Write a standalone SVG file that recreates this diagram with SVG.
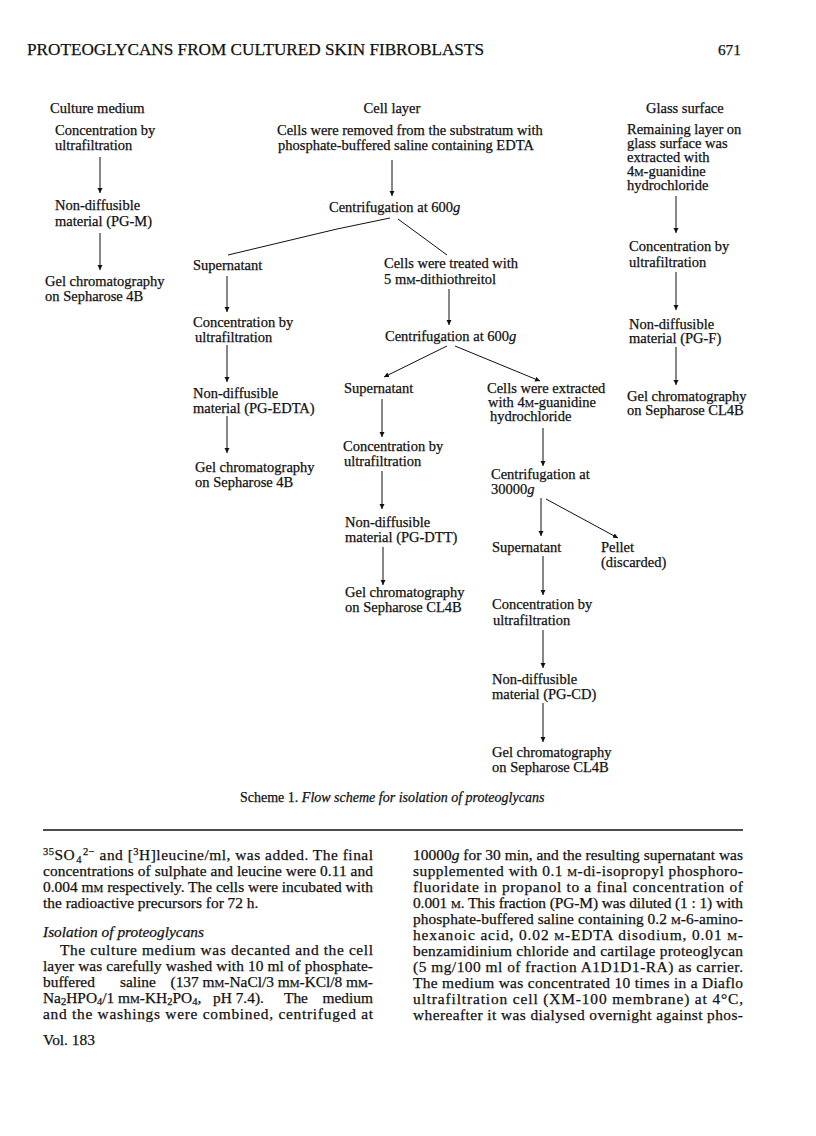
<svg xmlns="http://www.w3.org/2000/svg" width="816" height="1136" viewBox="0 0 816 1136">
<defs>
<marker id="ah" markerUnits="userSpaceOnUse" markerWidth="6" markerHeight="6" refX="5" refY="2.5" orient="auto">
<path d="M0,0 L5,2.5 L0,5 Z" fill="#111"/>
</marker>
<style>
text{font-family:"Liberation Serif","Times New Roman",serif;fill:#111;stroke:#111;stroke-width:0.25px;}
.d{font-size:14.5px;}
.b{font-size:15.4px;}
.cap{font-size:14px;}
.h{font-size:17px;}
.i{font-style:italic;}
.sc{font-size:10.5px;}
.bsc{font-size:11px;}
.sub{font-size:10.5px;}
line.c,polyline.c{stroke:#111;stroke-width:1;fill:none;}
line.a{stroke:#111;stroke-width:1;marker-end:url(#ah);}
</style>
</defs>
<rect width="816" height="1136" fill="#fff"/>

<g id="header">
<text class="h" x="27" y="55" textLength="457" lengthAdjust="spacingAndGlyphs">PROTEOGLYCANS FROM CULTURED SKIN FIBROBLASTS</text>
<text class="b" x="741" y="55" text-anchor="end">671</text>
</g>

<g id="connectors">
<line class="a" x1="100" y1="157" x2="100" y2="193"/>
<line class="a" x1="100" y1="233" x2="100" y2="270"/>
<line class="a" x1="392" y1="160" x2="392" y2="196"/>
<polyline class="c" points="390,218 337,229 228,255"/>
<line class="c" x1="398" y1="219" x2="447" y2="255"/>
<line class="a" x1="227" y1="276" x2="227" y2="312"/>
<line class="a" x1="227" y1="345" x2="227" y2="382"/>
<line class="a" x1="227" y1="416" x2="227" y2="453"/>
<line class="a" x1="449" y1="289" x2="449" y2="325"/>
<line class="a" x1="447" y1="346" x2="384" y2="377"/>
<line class="a" x1="455" y1="346" x2="540" y2="381"/>
<line class="a" x1="382" y1="399" x2="382" y2="437"/>
<line class="a" x1="382" y1="471" x2="382" y2="509"/>
<line class="a" x1="383" y1="547" x2="383" y2="585"/>
<line class="a" x1="543" y1="428" x2="543" y2="466"/>
<line class="a" x1="541" y1="498" x2="541" y2="536"/>
<line class="a" x1="546" y1="499" x2="618" y2="538"/>
<line class="a" x1="543" y1="556" x2="543" y2="595"/>
<line class="a" x1="543" y1="630" x2="543" y2="668"/>
<line class="a" x1="543" y1="703" x2="543" y2="742"/>
<line class="a" x1="676" y1="196" x2="676" y2="233"/>
<line class="a" x1="676" y1="272" x2="676" y2="310"/>
<line class="a" x1="676" y1="347" x2="676" y2="385"/>
</g>

<g id="culture-medium">
<text class="d" x="50" y="113">Culture medium</text>
</g>
<g id="cm-concentration">
<text class="d" x="55" y="135">Concentration by</text>
<text class="d" x="55" y="150">ultrafiltration</text>
</g>
<g id="pg-m">
<text class="d" x="55" y="210">Non-diffusible</text>
<text class="d" x="55" y="226">material (PG-M)</text>
</g>
<g id="cm-gel">
<text class="d" x="45" y="286">Gel chromatography</text>
<text class="d" x="45" y="301">on Sepharose 4B</text>
</g>

<g id="cell-layer">
<text class="d" x="392" y="113" text-anchor="middle">Cell layer</text>
</g>
<g id="cells-removed">
<text class="d" x="277" y="135">Cells were removed from the substratum with</text>
<text class="d" x="278" y="150">phosphate-buffered saline containing EDTA</text>
</g>
<g id="centrifugation-1">
<text class="d" x="329" y="212">Centrifugation at 600<tspan class="i">g</tspan></text>
</g>
<g id="supernatant-1">
<text class="d" x="193" y="270">Supernatant</text>
</g>
<g id="cells-treated">
<text class="d" x="384" y="268">Cells were treated with</text>
<text class="d" x="384" y="284">5 m<tspan class="sc">M</tspan>-dithiothreitol</text>
</g>
<g id="edta-concentration">
<text class="d" x="193" y="327">Concentration by</text>
<text class="d" x="195" y="342">ultrafiltration</text>
</g>
<g id="pg-edta">
<text class="d" x="193" y="398">Non-diffusible</text>
<text class="d" x="193" y="413">material (PG-EDTA)</text>
</g>
<g id="edta-gel">
<text class="d" x="195" y="472">Gel chromatography</text>
<text class="d" x="195" y="487">on Sepharose 4B</text>
</g>

<g id="centrifugation-2">
<text class="d" x="385" y="341">Centrifugation at 600<tspan class="i">g</tspan></text>
</g>
<g id="supernatant-2">
<text class="d" x="344" y="393">Supernatant</text>
</g>
<g id="cells-extracted">
<text class="d" x="487" y="393">Cells were extracted</text>
<text class="d" x="488" y="407">with 4<tspan class="sc">M</tspan>-guanidine</text>
<text class="d" x="490" y="421">hydrochloride</text>
</g>
<g id="dtt-concentration">
<text class="d" x="343" y="451">Concentration by</text>
<text class="d" x="344" y="466">ultrafiltration</text>
</g>
<g id="pg-dtt">
<text class="d" x="345" y="527">Non-diffusible</text>
<text class="d" x="345" y="542">material (PG-DTT)</text>
</g>
<g id="dtt-gel">
<text class="d" x="345" y="597">Gel chromatography</text>
<text class="d" x="345" y="612">on Sepharose CL4B</text>
</g>

<g id="centrifugation-3">
<text class="d" x="491" y="479">Centrifugation at</text>
<text class="d" x="491" y="494">30000<tspan class="i">g</tspan></text>
</g>
<g id="supernatant-3">
<text class="d" x="492" y="552">Supernatant</text>
</g>
<g id="pellet">
<text class="d" x="601" y="552">Pellet</text>
<text class="d" x="601" y="567">(discarded)</text>
</g>
<g id="cd-concentration">
<text class="d" x="492" y="609">Concentration by</text>
<text class="d" x="493" y="625">ultrafiltration</text>
</g>
<g id="pg-cd">
<text class="d" x="492" y="684">Non-diffusible</text>
<text class="d" x="492" y="699">material (PG-CD)</text>
</g>
<g id="cd-gel">
<text class="d" x="492" y="757">Gel chromatography</text>
<text class="d" x="492" y="772">on Sepharose CL4B</text>
</g>

<g id="glass-surface">
<text class="d" x="646" y="113">Glass surface</text>
</g>
<g id="remaining-layer">
<text class="d" x="627" y="134">Remaining layer on</text>
<text class="d" x="627" y="148">glass surface was</text>
<text class="d" x="627" y="162">extracted with</text>
<text class="d" x="627" y="176">4<tspan class="sc">M</tspan>-guanidine</text>
<text class="d" x="627" y="190">hydrochloride</text>
</g>
<g id="gs-concentration">
<text class="d" x="629" y="251">Concentration by</text>
<text class="d" x="629" y="267">ultrafiltration</text>
</g>
<g id="pg-f">
<text class="d" x="629" y="329">Non-diffusible</text>
<text class="d" x="629" y="343">material (PG-F)</text>
</g>
<g id="gs-gel">
<text class="d" x="627" y="401">Gel chromatography</text>
<text class="d" x="627" y="415">on Sepharose CL4B</text>
</g>

<g id="caption">
<text class="cap" x="240" y="802">Scheme 1. <tspan class="i">Flow scheme for isolation of proteoglycans</tspan></text>
<line x1="43" y1="830" x2="743" y2="830" stroke="#111" stroke-width="1.4"/>
</g>

<g id="body-left">
<text class="b" x="43" y="860" textLength="330" lengthAdjust="spacing"><tspan class="sub" baseline-shift="5">35</tspan>SO<tspan class="sub" dx="1" baseline-shift="-3">4</tspan><tspan class="sub" dx="1" baseline-shift="5">2−</tspan> and [<tspan class="sub" baseline-shift="5">3</tspan>H]leucine/ml, was added. The final</text>
<text class="b" x="43" y="876" textLength="330" lengthAdjust="spacing">concentrations of sulphate and leucine were 0.11 and</text>
<text class="b" x="43" y="892" textLength="330" lengthAdjust="spacing">0.004 m<tspan class="bsc">M</tspan> respectively. The cells were incubated with</text>
<text class="b" x="43" y="908">the radioactive precursors for 72 h.</text>
<text class="b i" x="43" y="937">Isolation of proteoglycans</text>
<text class="b" x="60" y="955" textLength="313" lengthAdjust="spacing">The culture medium was decanted and the cell</text>
<text class="b" x="43" y="971" textLength="330" lengthAdjust="spacing">layer was carefully washed with 10 ml of phosphate-</text>
<text class="b" x="43" y="987">buffered</text>
<text class="b" x="120" y="987">saline</text>
<text class="b" x="373" y="987" text-anchor="end">(137 m<tspan class="bsc">M</tspan>-NaCl/3 m<tspan class="bsc">M</tspan>-KCl/8 m<tspan class="bsc">M</tspan>-</text>
<text class="b" x="43" y="1003">Na<tspan class="sub" baseline-shift="-2">2</tspan>HPO<tspan class="sub" baseline-shift="-2">4</tspan>/1 m<tspan class="bsc">M</tspan>-KH<tspan class="sub" baseline-shift="-2">2</tspan>PO<tspan class="sub" baseline-shift="-2">4</tspan>,</text>
<text class="b" x="213" y="1003">pH 7.4).</text>
<text class="b" x="284" y="1003">The</text>
<text class="b" x="373" y="1003" text-anchor="end">medium</text>
<text class="b" x="43" y="1019" textLength="330" lengthAdjust="spacing">and the washings were combined, centrifuged at</text>
<text class="b" x="43" y="1045">Vol. 183</text>
</g>

<g id="body-right">
<text class="b" x="413" y="860" textLength="330" lengthAdjust="spacing">10000<tspan class="i">g</tspan> for 30 min, and the resulting supernatant was</text>
<text class="b" x="413" y="876" textLength="330" lengthAdjust="spacing">supplemented with 0.1 <tspan class="bsc">M</tspan>-di-isopropyl phosphoro-</text>
<text class="b" x="413" y="892" textLength="330" lengthAdjust="spacing">fluoridate in propanol to a final concentration of</text>
<text class="b" x="413" y="908" textLength="330" lengthAdjust="spacing">0.001 <tspan class="bsc">M</tspan>. This fraction (PG-M) was diluted (1 : 1) with</text>
<text class="b" x="413" y="924" textLength="330" lengthAdjust="spacing">phosphate-buffered saline containing 0.2 <tspan class="bsc">M</tspan>-6-amino-</text>
<text class="b" x="413" y="940" textLength="330" lengthAdjust="spacing">hexanoic acid, 0.02 <tspan class="bsc">M</tspan>-EDTA disodium, 0.01 <tspan class="bsc">M</tspan>-</text>
<text class="b" x="413" y="956" textLength="330" lengthAdjust="spacing">benzamidinium chloride and cartilage proteoglycan</text>
<text class="b" x="413" y="972" textLength="330" lengthAdjust="spacing">(5 mg/100 ml of fraction A1D1D1-RA) as carrier.</text>
<text class="b" x="413" y="988" textLength="330" lengthAdjust="spacing">The medium was concentrated 10 times in a Diaflo</text>
<text class="b" x="413" y="1004" textLength="330" lengthAdjust="spacing">ultrafiltration cell (XM-100 membrane) at 4°C,</text>
<text class="b" x="413" y="1020" textLength="330" lengthAdjust="spacing">whereafter it was dialysed overnight against phos-</text>
</g>
</svg>
